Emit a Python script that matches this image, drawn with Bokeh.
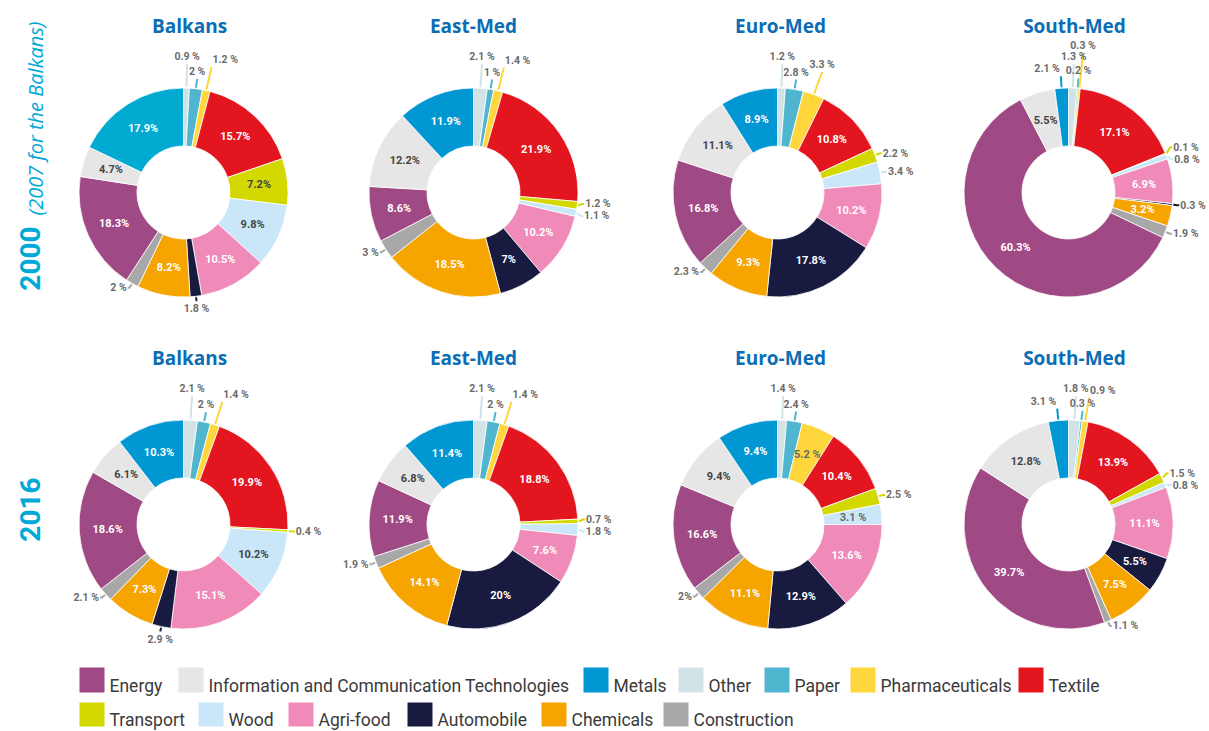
import math
from bokeh.plotting import figure
from bokeh.models import Range1d, ColumnDataSource
from bokeh.core.properties import value
from bokeh.embed import file_html
from bokeh.resources import INLINE

# ---------------- data ----------------
categories = ["Other", "Paper", "Pharmaceuticals", "Textile", "Transport", "Wood",
              "Agri-food", "Automobile", "Chemicals", "Construction", "Energy",
              "Information and Communication Technologies", "Metals"]
cat_colors = ["#D1E3E7", "#50B5CE", "#FFD63C", "#E3161F", "#D3D800", "#C9E7F8",
              "#F08AB8", "#191A40", "#F5A400", "#A8A8A8", "#9F4A85",
              "#E6E6E6", "#0097D3"]
regions = ["Balkans", "East-Med", "Euro-Med", "South-Med"]
years = ["2000", "2016"]

balkans_2000 = [0.9, 2, 1.2, 15.7, 7.2, 9.8, 10.5, 1.8, 8.2, 2, 18.3, 4.7, 17.9]
eastmed_2000 = [2.1, 1, 1.4, 21.9, 1.2, 1.1, 10.2, 7, 18.5, 3, 8.6, 12.2, 11.9]
euromed_2000 = [1.2, 2.8, 3.3, 10.8, 2.2, 3.4, 10.2, 17.8, 9.3, 2.3, 16.8, 11.1, 8.9]
southmed_2000 = [1.3, 0.2, 0.3, 17.1, 0.1, 0.8, 6.9, 0.3, 3.2, 1.9, 60.3, 5.5, 2.1]
balkans_2016 = [2.1, 2, 1.4, 19.9, 0.4, 10.2, 15.1, 2.9, 7.3, 2.1, 18.6, 6.1, 10.3]
eastmed_2016 = [2.1, 2, 1.4, 18.8, 0.7, 1.8, 7.6, 20, 14.1, 1.9, 11.9, 6.8, 11.4]
euromed_2016 = [1.4, 2.4, 5.2, 10.4, 2.5, 3.1, 13.6, 12.9, 11.1, 2, 16.6, 9.4, 9.4]
southmed_2016 = [1.8, 0.3, 0.9, 13.9, 1.5, 0.8, 11.1, 5.5, 7.5, 1.1, 39.7, 12.8, 3.1]

series = [[balkans_2000, eastmed_2000, euromed_2000, southmed_2000],
          [balkans_2016, eastmed_2016, euromed_2016, southmed_2016]]

legend_row1 = ["Energy", "Information and Communication Technologies", "Metals",
               "Other", "Paper", "Pharmaceuticals", "Textile"]
legend_row2 = ["Transport", "Wood", "Agri-food", "Automobile", "Chemicals", "Construction"]

row_titles = ["2000", "2016"]
row_subtitle = "(2007 for the Balkans)"

# ---------------- styling / layout ----------------
W, H = 1209, 731
def fx(xr): return xr
def fy(yr): return H - yr

CX = [183, 473, 777, 1068]
CY = [192, 524]
TITLE_DX = [6, 0, 3, 6]
R_OUT, R_IN = 104.5, 46.5
R_MID = 76
LABEL_FONT = "Roboto"
WHITE_TEXT = {"Energy", "Metals", "Textile", "Agri-food", "Automobile", "Chemicals"}
INSIDE_SMALL = {("Euro-Med", "2016", "Wood"), ("South-Med", "2000", "Chemicals")}
SPACED_INSIDE = {("Euro-Med", "2016", "Pharmaceuticals"), ("Euro-Med", "2016", "Wood")}
TIGHT_OUTSIDE = {("Euro-Med", "2016", "Construction")}
COLOR_OVERRIDE = {("Balkans", "2000", "Metals"): "#00AAD0"}
TITLE_BLUE = "#0B6DB4"
ROW_BLUE = "#00A9D6"
CHAR_W = {"%": 8.0, ".": 2.6, " ": 2.5}

def fmt(v):
    return f"{v:g}"

def text_w(t):
    return sum(CHAR_W.get(ch, 5.6) for ch in t)

def overlaps(b, boxes, pad=1.0):
    for q in boxes:
        if b[0] < q[1] + pad and q[0] < b[1] + pad and b[2] < q[3] + pad and q[2] < b[3] + pad:
            return True
    return False

p = figure(width=W, height=H, x_range=Range1d(0, W), y_range=Range1d(0, H),
           output_backend="svg", toolbar_location=None, min_border=0,
           x_axis_location=None, y_axis_location=None)
p.grid.visible = False
p.outline_line_color = None
p.background_fill_color = "white"
p.border_fill_color = "white"

wed = dict(x=[], y=[], s=[], e=[], c=[])
ins = dict(x=[], y=[], t=[], c=[])
lines = dict(xs=[], ys=[], c=[])
otexts = []  # (x, y, text, align, baseline)
titles = dict(x=[], y=[], t=[])
TH = 10.0  # label text height estimate

TOP_CANDS = [(24, "center"), (10, "center"), (24, "left"), (10, "left"),
             (17, "left"), (36, "center"), (36, "left")]

for ri, yr in enumerate(years):
    for ci, rg in enumerate(regions):
        vals = series[ri][ci]
        total = float(sum(vals))
        cx, cy = fx(CX[ci]), fy(CY[ri])
        cum = 0.0
        outs = []
        for i, (cat, v) in enumerate(zip(categories, vals)):
            col = COLOR_OVERRIDE.get((rg, yr, cat), cat_colors[i])
            t0 = cum / total * 2 * math.pi
            cum += v
            t1 = cum / total * 2 * math.pi
            wed["x"].append(cx); wed["y"].append(cy)
            wed["s"].append(math.pi / 2 - t0); wed["e"].append(math.pi / 2 - t1)
            wed["c"].append(col)
            tm = (t0 + t1) / 2
            if v >= 4.5 or (rg, yr, cat) in INSIDE_SMALL:
                txt = fmt(v) + (" %" if (rg, yr, cat) in SPACED_INSIDE else "%")
                ins["x"].append(cx + R_MID * math.sin(tm))
                ins["y"].append(cy + R_MID * math.cos(tm))
                ins["t"].append(txt)
                if (rg, yr, cat) in SPACED_INSIDE:
                    ins["c"].append("#6a6a6a")
                else:
                    ins["c"].append("white" if cat in WHITE_TEXT else "#444444")
            else:
                txt = fmt(v) + ("%" if (rg, yr, cat) in TIGHT_OUTSIDE else " %")
                outs.append(dict(tm=tm, txt=txt, col=col))
        top, right, left, bottom = [], [], [], []
        for o in outs:
            s = o["tm"] if o["tm"] <= math.pi else o["tm"] - 2 * math.pi
            o["s"] = s
            if abs(s) < 0.55:
                top.append(o)
            elif abs(math.pi - abs(s)) < 0.3:
                bottom.append(o)
            elif s > 0:
                right.append(o)
            else:
                left.append(o)
        # top group: greedy non-overlapping placement
        placed = []
        neg = sorted([o for o in top if o["s"] < 0], key=lambda o: -o["s"])
        pos = sorted([o for o in top if o["s"] >= 0], key=lambda o: o["s"])
        for grp, cands in ((pos, TOP_CANDS),
                           (neg, [(12, "right"), (24, "right"), (36, "right")])):
            for o in grp:
                s = o["s"]
                w = text_w(o["txt"])
                choice = None
                for L, al in cands:
                    p1 = (cx + (R_OUT + L) * math.sin(s), cy + (R_OUT + L) * math.cos(s))
                    if al == "center":
                        b = (p1[0] - w / 2, p1[0] + w / 2, p1[1] + 1, p1[1] + 1 + TH)
                    elif al == "left":
                        b = (p1[0] + 1, p1[0] + 1 + w, p1[1] + 1, p1[1] + 1 + TH)
                    else:
                        b = (p1[0] - 1 - w, p1[0] - 1, p1[1] + 1, p1[1] + 1 + TH)
                    if not overlaps(b, placed):
                        choice = (p1, al, b)
                        break
                if choice is None:
                    choice = (p1, al, b)
                p1, al, b = choice
                placed.append(b)
                p0 = (cx + (R_OUT + 1) * math.sin(s), cy + (R_OUT + 1) * math.cos(s))
                lines["xs"].append([p0[0], p1[0]]); lines["ys"].append([p0[1], p1[1]])
                lines["c"].append(o["col"])
                tx = p1[0] + (1 if al == "left" else (-1 if al == "right" else 0))
                otexts.append((tx, p1[1] + 1, o["txt"], al, "bottom"))
        # side groups
        for grp, side in ((right, 1), (left, -1)):
            if not grp:
                continue
            for o in grp:
                s = o["s"]
                o["p0"] = (cx + (R_OUT + 1) * math.sin(s), cy + (R_OUT + 1) * math.cos(s))
                o["p1"] = (cx + (R_OUT + 5) * math.sin(s), cy + (R_OUT + 5) * math.cos(s))
                o["ly"] = o["p1"][1]
            grp.sort(key=lambda o: -o["ly"])
            for _ in range(60):
                for a, b in zip(grp, grp[1:]):
                    d = a["ly"] - b["ly"]
                    if d < 12:
                        sh = (12 - d) / 2
                        a["ly"] += sh; b["ly"] -= sh
            for o in grp:
                x1 = o["p1"][0]
                lines["xs"].append([o["p0"][0], x1, x1 + 2 * side])
                lines["ys"].append([o["p0"][1], o["ly"], o["ly"]])
                lines["c"].append(o["col"])
                otexts.append((x1 + 3 * side, o["ly"], o["txt"],
                               "left" if side > 0 else "right", "middle"))
        for o in bottom:
            s = o["s"]
            p0 = (cx + (R_OUT + 1) * math.sin(s), cy + (R_OUT + 1) * math.cos(s))
            p1 = (cx + (R_OUT + 5) * math.sin(s), cy + (R_OUT + 5) * math.cos(s))
            lines["xs"].append([p0[0], p1[0]]); lines["ys"].append([p0[1], p1[1]])
            lines["c"].append(o["col"])
            otexts.append((p1[0], p1[1] - 1, o["txt"], "center", "top"))
        titles["x"].append(cx + TITLE_DX[ci]); titles["y"].append(fy(CY[ri] - 167))
        titles["t"].append(rg)

p.annular_wedge(x="x", y="y", inner_radius=R_IN, outer_radius=R_OUT,
                start_angle="s", end_angle="e", direction="clock",
                fill_color="c", line_color="white", line_width=0.8,
                source=ColumnDataSource(wed))
p.multi_line(xs="xs", ys="ys", line_color="c", line_width=2,
             source=ColumnDataSource(lines))
p.text(x="x", y="y", text="t", text_color="c", text_align="center",
       text_baseline="middle", text_font=value(LABEL_FONT),
       text_font_style="bold", text_font_size=value("11px"),
       source=ColumnDataSource(ins))
groups = {}
for (tx, ty, t, al, bl) in otexts:
    g = groups.setdefault((al, bl), dict(x=[], y=[], t=[]))
    g["x"].append(tx); g["y"].append(ty); g["t"].append(t)
for (al, bl), g in groups.items():
    p.text(x="x", y="y", text="t", text_color="#6b6b6b", text_align=al,
           text_baseline=bl, text_font=value(LABEL_FONT), text_font_style="bold",
           text_font_size=value("10.5px"), source=ColumnDataSource(g))

p.text(x="x", y="y", text="t", text_align="center", text_baseline="middle",
       text_font=value("Open Sans"), text_font_style="bold",
       text_font_size=value("19px"), text_color=TITLE_BLUE,
       source=ColumnDataSource(titles))

# row labels
p.text(x=[fx(29)], y=[fy(258)], text=[row_titles[0]], angle=math.pi / 2,
       text_align="center", text_baseline="middle", text_font=value("Roboto"),
       text_font_style="bold", text_font_size=value("28px"), text_color=ROW_BLUE)
p.text(x=[fx(35)], y=[fy(118)], text=[row_subtitle], angle=math.pi / 2,
       text_align="center", text_baseline="middle", text_font=value("Open Sans"),
       text_font_style="italic", text_font_size=value("20px"), text_color=ROW_BLUE)
p.text(x=[fx(29)], y=[fy(509)], text=[row_titles[1]], angle=math.pi / 2,
       text_align="center", text_baseline="middle", text_font=value("Roboto"),
       text_font_style="bold", text_font_size=value("28px"), text_color=ROW_BLUE)

# legend
color_of = dict(zip(categories, cat_colors))
row1_x = [79, 178, 583, 678, 764, 850, 1018]
row2_x = [79, 198, 288, 407, 541, 663]
leg_sq = dict(x=[], y=[], c=[], h=[])
leg_tx = dict(x=[], y=[], t=[])
for names, xs, (ytop, ybot) in ((legend_row1, row1_x, (667, 692)),
                                (legend_row2, row2_x, (702, 726))):
    for nm, xr in zip(names, xs):
        leg_sq["x"].append(fx(xr + 12.5)); leg_sq["y"].append(fy((ytop + ybot) / 2))
        leg_sq["c"].append(color_of[nm]); leg_sq["h"].append(ybot - ytop)
        leg_tx["x"].append(fx(xr + 30)); leg_tx["y"].append(fy(ybot - 7))
        leg_tx["t"].append(nm)

p.rect(x="x", y="y", width=25, height="h", fill_color="c",
       line_color=None, source=ColumnDataSource(leg_sq))
p.text(x="x", y="y", text="t", text_color="#3a3a3a", text_align="left",
       text_baseline="middle", text_font=value("Roboto"),
       text_font_size=value("17.5px"), source=ColumnDataSource(leg_tx))

open("out.html", "w").write(file_html(p, INLINE))
